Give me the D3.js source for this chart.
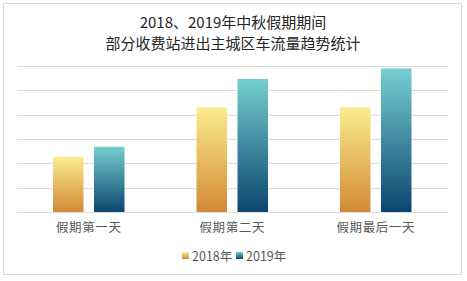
<!DOCTYPE html>
<html><head><meta charset="utf-8">
<script src="https://cdn.jsdelivr.net/npm/d3@7/dist/d3.min.js"></script>
<style>body{margin:0;background:#fff;}svg{display:block;font-family:"Noto Sans CJK SC","Microsoft YaHei",sans-serif;}</style>
</head><body><svg id="c" width="467" height="281"></svg>
<script>
const titleLines = ["2018、2019年中秋假期期间", "部分收费站进出主城区车流量趋势统计"];
const categories = ["假期第一天", "假期第二天", "假期最后一天"];
const seriesNames = ["2018年", "2019年"];
const values2018 = [2.27, 4.30, 4.30];
const values2019 = [2.68, 5.47, 5.90];
const yTicks = [0, 1, 2, 3, 4, 5, 6];

const svg = d3.select("#c");
const W = 467, H = 281;
const m = {left: 17, right: 19.5, top: 66, bottom: 69};
const defs = svg.append("defs");
const grads = [
  {id: "g2018", top: "#fbec8f", bottom: "#d18a34"},
  {id: "g2019", top: "#75cfcf", bottom: "#0c4570"}
];
grads.forEach(g => {
  const lg = defs.append("linearGradient").attr("id", g.id).attr("x1", 0).attr("y1", 0).attr("x2", 0).attr("y2", 1);
  lg.append("stop").attr("offset", "0%").attr("stop-color", g.top);
  lg.append("stop").attr("offset", "100%").attr("stop-color", g.bottom);
});

svg.append("rect").attr("x", 3.5).attr("y", 3.5).attr("width", 458).attr("height", 271)
  .attr("fill", "#fff").attr("stroke", "#d9d9d9").attr("stroke-width", 1);

const x0 = d3.scaleBand().domain(categories).range([m.left, W - m.right]).paddingInner(0).paddingOuter(0);
const x1 = d3.scaleBand().domain(seriesNames).range([0, x0.bandwidth()]).paddingInner(0.256).paddingOuter(0.878);
const y = d3.scaleLinear().domain([0, 6]).range([H - m.bottom, m.top]);

const grid = svg.append("g");
grid.selectAll("line").data(yTicks).join("line")
  .attr("x1", m.left).attr("x2", W - m.right)
  .attr("y1", d => Math.round(y(d)) + 0.5).attr("y2", d => Math.round(y(d)) + 0.5)
  .attr("stroke", "#dcdcdc").attr("stroke-width", 1);

const data = categories.map((c, i) => ({c, vals: [values2018[i], values2019[i]]}));
const g = svg.append("g");
data.forEach(d => {
  d.vals.forEach((v, j) => {
    g.append("rect")
      .attr("x", x0(d.c) + x1(seriesNames[j]))
      .attr("width", x1.bandwidth())
      .attr("y", y(v))
      .attr("height", y(0) - y(v))
      .attr("fill", `url(#${grads[j].id})`);
  });
});

const xAxis = d3.axisBottom(x0).tickSize(0).tickPadding(11);
const ax = svg.append("g").attr("transform", `translate(0,${y(0)})`).call(xAxis);
ax.select(".domain").remove();
ax.selectAll("text").attr("font-size", 12.5).attr("fill", "#595959")
  .attr("font-family", '"Noto Sans CJK SC",sans-serif').attr("letter-spacing", 0.6);

svg.append("g").selectAll("text").data(titleLines).join("text")
  .attr("x", 233).attr("y", (d, i) => 28 + i * 21)
  .attr("text-anchor", "middle").attr("font-size", 15).attr("fill", "#262626")
  .text(d => d);

const leg = svg.append("g");
const legX = [182, 236];
seriesNames.forEach((s, j) => {
  leg.append("rect").attr("x", legX[j]).attr("y", 252).attr("width", 7).attr("height", 7)
    .attr("fill", `url(#${grads[j].id})`);
  leg.append("text").attr("x", legX[j] + 10).attr("y", 260.5).attr("font-size", 12.5).attr("fill", "#595959")
    .text(s);
});
</script></body></html>
